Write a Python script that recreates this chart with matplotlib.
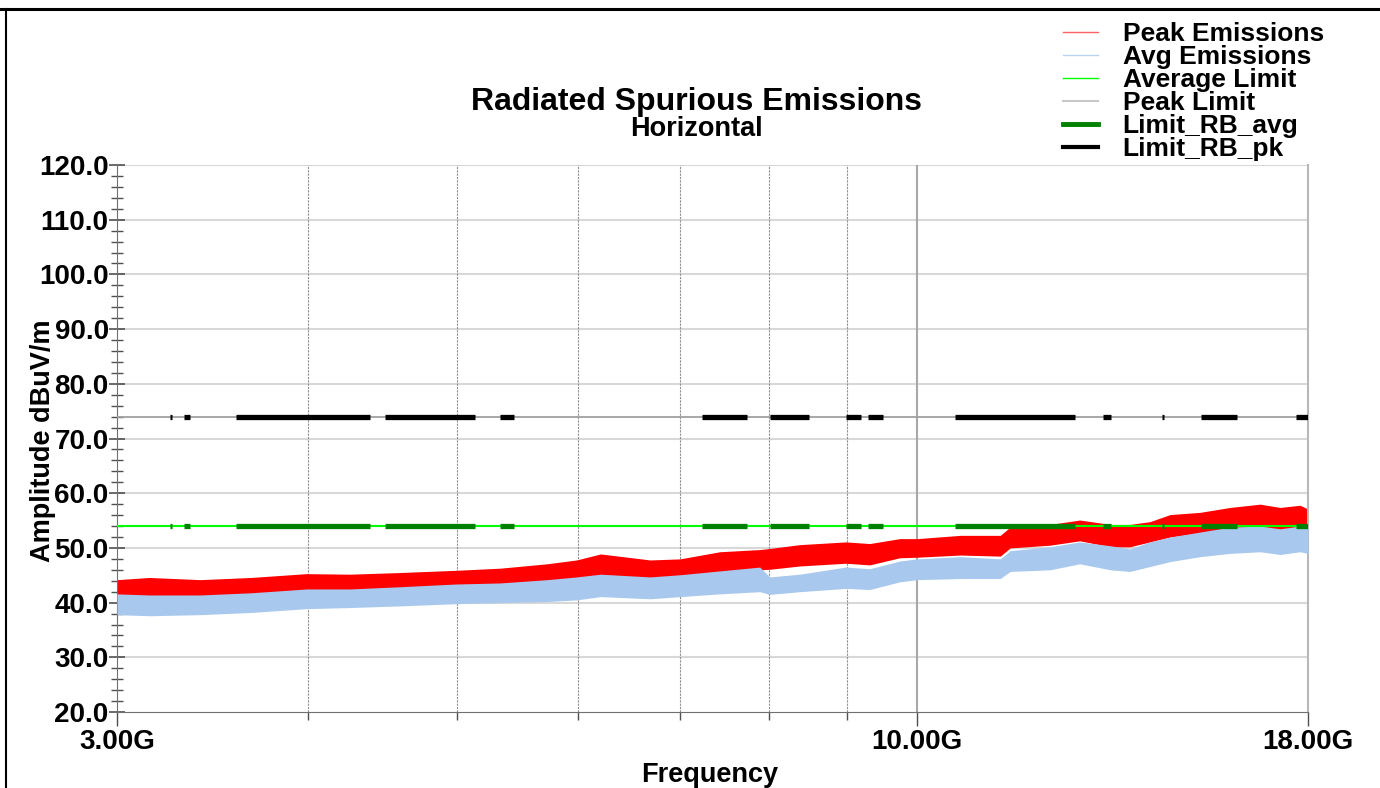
import numpy as np
import matplotlib
matplotlib.use('Agg')
import matplotlib.pyplot as plt
from matplotlib.lines import Line2D
from matplotlib.ticker import FixedLocator, NullFormatter, MultipleLocator

plt.rcParams['font.family'] = ['Liberation Sans', 'DejaVu Sans']
plt.rcParams['font.weight'] = 'bold'

# 주파수 (GHz) 와 측정값 포락선 (dBuV/m)
freq_ghz = [3.00, 3.15, 3.40, 3.67, 3.99, 4.26, 4.59, 4.99, 5.34, 5.73,
            5.99, 6.21, 6.69, 7.00, 7.43, 7.89, 8.01, 8.38, 8.98, 9.31,
            9.74, 10.00, 10.67, 11.33, 11.50, 12.21, 12.77, 13.37, 13.77, 14.19,
            14.63, 15.30, 16.01, 16.75, 17.26, 17.79, 18.00]
peak_hi = [44.2, 44.6, 44.2, 44.6, 45.3, 45.2, 45.5, 45.9, 46.3, 47.1,
           47.8, 48.9, 47.8, 48.0, 49.3, 49.7, 49.9, 50.6, 51.1, 50.8,
           51.7, 51.7, 52.3, 52.3, 53.8, 54.3, 55.1, 54.3, 54.3, 54.8,
           56.1, 56.5, 57.4, 58.0, 57.4, 57.8, 57.1]
peak_lo = [40.8, 40.8, 40.8, 41.0, 41.6, 41.8, 42.1, 42.3, 42.7, 43.6,
           44.1, 45.0, 44.5, 44.9, 45.6, 46.0, 46.1, 46.7, 47.2, 46.9,
           48.2, 48.3, 48.7, 48.5, 50.0, 50.5, 51.3, 50.2, 50.2, 51.1,
           52.0, 52.7, 53.3, 53.6, 53.3, 53.6, 53.3]
avg_hi = [41.6, 41.4, 41.4, 41.8, 42.5, 42.5, 42.9, 43.4, 43.6, 44.2,
          44.7, 45.2, 44.7, 45.1, 45.8, 46.5, 44.7, 45.2, 46.5, 46.2,
          47.6, 48.0, 48.4, 48.0, 49.5, 50.2, 51.1, 50.4, 49.8, 51.1,
          52.0, 52.9, 53.8, 54.0, 53.5, 54.0, 53.5]
avg_lo = [37.8, 37.6, 37.8, 38.2, 38.9, 39.1, 39.4, 39.8, 40.0, 40.2,
          40.5, 41.1, 40.7, 41.1, 41.6, 42.0, 41.5, 42.0, 42.6, 42.4,
          43.8, 44.2, 44.4, 44.4, 45.7, 46.0, 47.1, 46.0, 45.7, 46.6,
          47.5, 48.4, 49.0, 49.3, 48.8, 49.3, 49.0]

# 제한값
avg_limit = 54.0
peak_limit = 74.0
rb_start = [3.25, 3.32, 3.59, 4.49, 5.34, 7.23, 8.01, 8.98, 9.29, 10.59, 13.23, 14.45, 15.33, 17.68]
rb_stop = [3.26, 3.35, 4.39, 5.14, 5.45, 7.74, 8.50, 9.19, 9.50, 12.68, 13.39, 14.50, 16.18, 18.00]

fig = plt.figure(figsize=(13.8, 7.88), dpi=100)
ax = fig.add_axes([0.0848, 0.0964, 0.863, 0.6942])

f = np.array(freq_ghz) * 1e9
ax.fill_between(f, peak_lo, peak_hi, color='#ff0000', lw=0, zorder=2)
ax.fill_between(f, avg_lo, avg_hi, color='#a8c8ee', lw=0, zorder=3)

seg_x0 = np.array(rb_start) * 1e9
seg_x1 = np.array(rb_stop) * 1e9
ax.axhline(peak_limit, color='#a0a0a0', lw=1.3, zorder=4)
ax.axhline(avg_limit, color='#00ff00', lw=1.5, zorder=4)
ax.hlines([avg_limit] * len(seg_x0), seg_x0, seg_x1, color='#008000', lw=3.8, zorder=5)
ax.hlines([peak_limit] * len(seg_x0), seg_x0, seg_x1, color='black', lw=3.8, zorder=5)

ax.set_xscale('log')
ax.set_xlim(3e9, 18e9)
ax.set_ylim(20, 120)

# 격자
for v in range(30, 121, 10):
    ax.axhline(v, color='#d8d8d8', lw=1.5, zorder=1)
for g in [4, 5, 6, 7, 8, 9]:
    ax.axvline(g * 1e9, color='#909090', lw=0.8, ls=(0, (2, 1)), zorder=1)
ax.axvline(10e9, color='#a8a8a8', lw=1.5, zorder=1)

ax.xaxis.set_major_locator(FixedLocator([3e9, 10e9, 18e9]))
ax.set_xticklabels(['3.00G', '10.00G', '18.00G'])
ax.xaxis.set_minor_locator(FixedLocator([4e9, 5e9, 6e9, 7e9, 8e9, 9e9]))
ax.xaxis.set_minor_formatter(NullFormatter())
ax.yaxis.set_major_locator(MultipleLocator(10))
ax.yaxis.set_minor_locator(MultipleLocator(2))
ax.yaxis.set_major_formatter(plt.FuncFormatter(lambda v, p: '%.1f' % v))

ax.tick_params(axis='y', which='major', direction='inout', length=12, width=1.2, color='#505050',
               labelsize=20, pad=0)
ax.tick_params(axis='y', which='minor', direction='inout', length=8, width=1, color='#505050')
ax.tick_params(axis='x', which='major', direction='out', length=10, width=1, color='#505050',
               labelsize=20, pad=2)
ax.tick_params(axis='x', which='minor', direction='out', length=6, width=1, color='#505050')
for lab in ax.get_xticklabels() + ax.get_yticklabels():
    lab.set_fontweight('bold')

ax.spines['top'].set_visible(False)
ax.spines['left'].set_color('#707070')
ax.spines['bottom'].set_color('#707070')
ax.spines['right'].set_color('#b8b8b8')
ax.spines['right'].set_linewidth(1.5)

fig.text(0.505, 0.871, 'Radiated Spurious Emissions', ha='center', va='center', fontsize=23, fontweight='bold')
fig.text(0.505, 0.836, 'Horizontal', ha='center', va='center', fontsize=19.5, fontweight='bold')
fig.text(0.514, 0.016, 'Frequency', ha='center', va='center', fontsize=19.5, fontweight='bold')
fig.text(0.031, 0.441, 'Amplitude dBuV/m', ha='center', va='center', rotation=90, fontsize=19.5, fontweight='bold')

# 범례
handles = [Line2D([], [], color='#ff6060', lw=1),
           Line2D([], [], color='#b8d4f4', lw=1),
           Line2D([], [], color='#00ff00', lw=1),
           Line2D([], [], color='#c8c8c8', lw=1.5),
           Line2D([], [], color='#008000', lw=3.5),
           Line2D([], [], color='black', lw=3)]
labels = ['Peak Emissions', 'Avg Emissions', 'Average Limit', 'Peak Limit', 'Limit_RB_avg', 'Limit_RB_pk']
fig.legend(handles, labels, loc='upper left', bbox_to_anchor=(0.761, 0.989), frameon=False,
           prop={'size': 19, 'weight': 'bold'}, handlelength=1.3, handletextpad=0.95,
           labelspacing=-0.035, borderpad=0)

# 외곽선
fig.add_artist(Line2D([0, 1], [0.9886, 0.9886], color='black', lw=2.2, transform=fig.transFigure))
fig.add_artist(Line2D([0.0045, 0.0045], [0, 0.9886], color='black', lw=1.5, transform=fig.transFigure))

fig.savefig('out.png', dpi=100)
